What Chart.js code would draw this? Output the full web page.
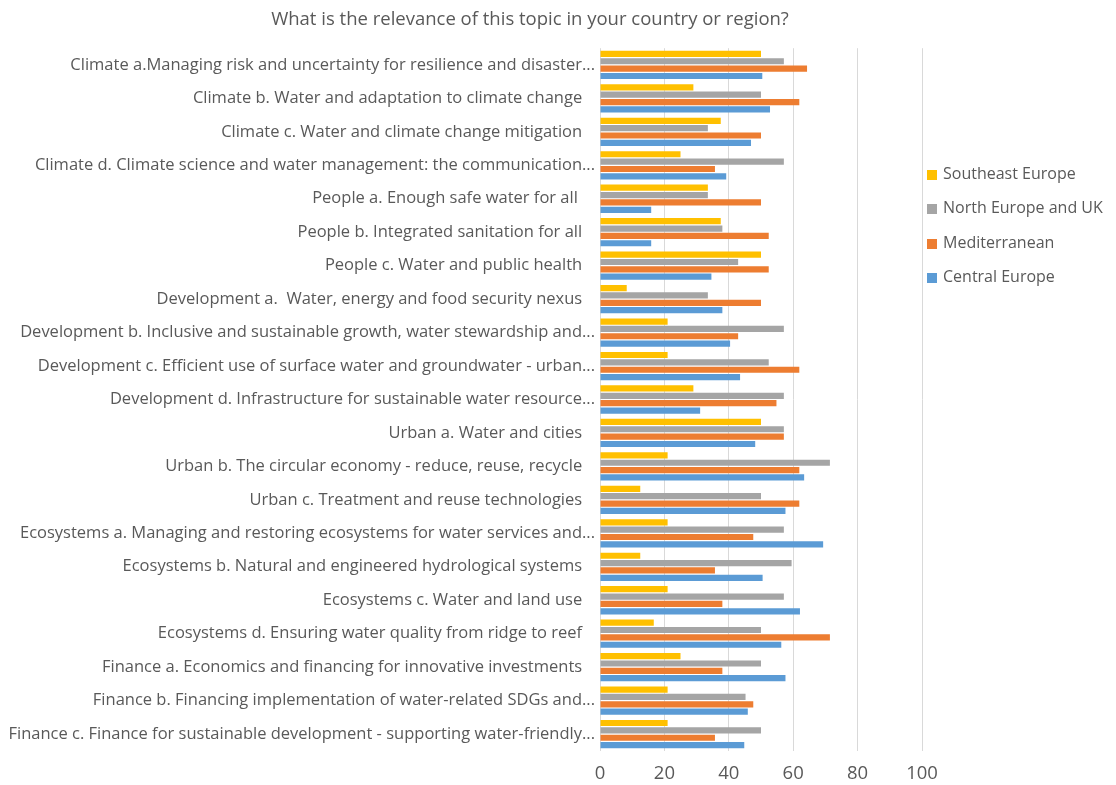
<!DOCTYPE html>
<html>
<head>
<meta charset="utf-8">
<script src="https://cdn.jsdelivr.net/npm/chart.js@4"></script>
<style>
  body { margin: 0; background: #fff; overflow: hidden; }
  #wrap { position: relative; width: 1116px; height: 785px; }
  #chart-box { position: absolute; left: 0; top: 0; width: 1116px; height: 797px; }
  #legend { position: absolute; left: 927px; top: 156px; font-family: "Open Sans", sans-serif; font-size: 16px; color: #595959; }
  #legend div { height: 34.4px; line-height: 34.4px; white-space: nowrap; }
  #legend span { display: inline-block; width: 10px; height: 10px; margin-right: 6px; vertical-align: -1px; }
</style>
</head>
<body>
<div id="wrap">
  <div id="chart-box"><canvas id="relevanceChart"></canvas></div>
  <div id="legend"></div>
</div>
<script>
// Categories (top to bottom); trailing spaces as in the source labels
const topics = [
    'Climate a.Managing risk and uncertainty for resilience and disaster...',
    'Climate b. Water and adaptation to climate change   ',
    'Climate c. Water and climate change mitigation   ',
    'Climate d. Climate science and water management: the communication...',
    'People a. Enough safe water for all    ',
    'People b. Integrated sanitation for all   ',
    'People c. Water and public health   ',
    'Development a.  Water, energy and food security nexus   ',
    'Development b. Inclusive and sustainable growth, water stewardship and...',
    'Development c. Efficient use of surface water and groundwater - urban...',
    'Development d. Infrastructure for sustainable water resource...',
    'Urban a. Water and cities   ',
    'Urban b. The circular economy - reduce, reuse, recycle   ',
    'Urban c. Treatment and reuse technologies   ',
    'Ecosystems a. Managing and restoring ecosystems for water services and...',
    'Ecosystems b. Natural and engineered hydrological systems   ',
    'Ecosystems c. Water and land use   ',
    'Ecosystems d. Ensuring water quality from ridge to reef   ',
    'Finance a. Economics and financing for innovative investments   ',
    'Finance b. Financing implementation of water-related SDGs and...',
    'Finance c. Finance for sustainable development - supporting water-friendly...'
];

// Series values (% per region)
const southeastEurope = [50, 29, 37.5, 25, 33.5, 37.5, 50, 8.3, 21, 21, 29, 50, 21, 12.5, 21, 12.5, 21, 16.7, 25, 21, 21];
const northEuropeUK   = [57.1, 50, 33.5, 57.1, 33.5, 38, 42.9, 33.5, 57.1, 52.4, 57.1, 57.1, 71.4, 50, 57.1, 59.5, 57.1, 50, 50, 45.2, 50];
const mediterranean   = [64.3, 61.9, 50, 35.7, 50, 52.4, 52.4, 50, 42.9, 61.9, 54.8, 57.1, 61.9, 61.9, 47.6, 35.7, 38, 71.4, 38, 47.6, 35.7];
const centralEurope   = [50.4, 52.8, 46.9, 39.2, 15.9, 15.9, 34.6, 38, 40.4, 43.5, 31.1, 48.2, 63.4, 57.6, 69.3, 50.5, 62.1, 56.3, 57.6, 45.9, 44.8];

const xTicks = [0, 20, 40, 60, 80, 100];

const seriesNames = ['Southeast Europe', 'North Europe and UK', 'Mediterranean', 'Central Europe'];
const seriesColors = ['#FFC000', '#A5A5A5', '#ED7D31', '#5B9BD5'];
const seriesData = [southeastEurope, northEuropeUK, mediterranean, centralEurope];

Chart.defaults.font.family = '"Open Sans", sans-serif';
Chart.defaults.color = '#595959';

// The title in the original sits centred between x=138 and the end of the plot
const shiftTitle = {
    id: 'shiftTitle',
    afterLayout(chart) {
        chart.titleBlock.left = 138;
    }
};

const ctx = document.getElementById('relevanceChart').getContext('2d');

let chart = new Chart(ctx, {
    type: 'bar',
    data: {
        labels: topics,
        datasets: seriesNames.map((name, i) => ({
            label: name,
            data: seriesData[i],
            backgroundColor: seriesColors[i],
            borderWidth: 0,
            categoryPercentage: 0.88,
            barPercentage: 0.84
        }))
    },
    options: {
        indexAxis: 'y',
        responsive: true,
        maintainAspectRatio: false,
        animation: false,
        layout: { padding: { left: 0, right: 194, top: 0, bottom: 0 } },
        plugins: {
            legend: { display: false },
            tooltip: { enabled: false },
            title: {
                display: true,
                text: 'What is the relevance of this topic in your country or region?',
                color: '#595959',
                font: { size: 18.5, weight: 'normal' },
                padding: { top: 9, bottom: 17 }
            }
        },
        scales: {
            x: {
                min: 0,
                max: 100,
                afterBuildTicks: (scale) => { scale.ticks = xTicks.map(v => ({ value: v })); },
                grid: { color: '#D9D9D9', drawTicks: false },
                border: { display: false },
                ticks: { padding: 12, font: { size: 18.5 }, color: '#595959' }
            },
            y: {
                grid: { display: false, drawTicks: false },
                border: { display: false },
                ticks: { padding: 5, font: { size: 16.5 }, color: '#595959', autoSkip: false },
                afterFit: (scale) => { scale.width = 600; }
            }
        }
    },
    plugins: [shiftTitle]
});

// Legend built from the chart's datasets
const legendEl = document.getElementById('legend');
chart.data.datasets.forEach(ds => {
    const row = document.createElement('div');
    const box = document.createElement('span');
    box.style.background = ds.backgroundColor;
    row.appendChild(box);
    row.appendChild(document.createTextNode(ds.label));
    legendEl.appendChild(row);
});
</script>
</body>
</html>
